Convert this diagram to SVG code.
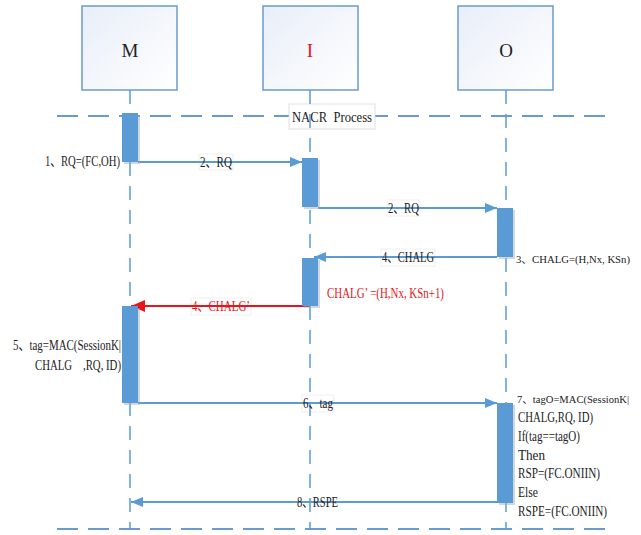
<svg xmlns="http://www.w3.org/2000/svg" width="641" height="535" viewBox="0 0 641 535">
<defs>
<linearGradient id="boxg" x1="0" y1="0" x2="1" y2="1">
<stop offset="0" stop-color="#e8eef8"/>
<stop offset="1" stop-color="#ffffff"/>
</linearGradient>
<marker id="ab" viewBox="0 0 12 10" refX="12" refY="5" markerWidth="12" markerHeight="10" markerUnits="userSpaceOnUse" orient="auto">
<path d="M0,0 L12,5 L0,10 Z" fill="#5b9bd5"/>
</marker>
<marker id="ar" viewBox="0 0 14 12" refX="14" refY="6" markerWidth="14" markerHeight="12" markerUnits="userSpaceOnUse" orient="auto">
<path d="M0,0 L14,6 L0,12 Z" fill="#e8141c"/>
</marker>
</defs>
<style>
.box{fill:url(#boxg);stroke:#6a9bd0;stroke-width:1.5}
.hd{font-family:"Liberation Serif","Noto Sans CJK SC",serif;font-size:19px;text-anchor:middle}
.t{font-family:"Liberation Serif","Noto Sans CJK SC",serif;font-size:14px;fill:#222;white-space:pre}
.s{font-size:11px}
.red{fill:#e8141c}
.frame{stroke:#6a9bd0;stroke-width:2;stroke-dasharray:21 10;fill:none}
.life{stroke:#5b9bd5;stroke-width:1.5;stroke-dasharray:14 10;fill:none}
.bar{fill:#5b9bd5}
.sh{fill:#9aa7b5;opacity:0.45}
.msg{stroke:#5b9bd5;stroke-width:2;fill:none;marker-end:url(#ab)}
.msgr{stroke:#e8141c;stroke-width:2;fill:none;marker-end:url(#ar)}
.lbg{fill:#ffffff;stroke:#ececec;stroke-width:0.8}
</style>

<g id="node-M">
<rect class="box" x="82" y="6" width="95" height="84"/>
<text class="hd" x="130" y="57" fill="#222">M</text>
</g>
<g id="node-I">
<rect class="box" x="263" y="6" width="95" height="84"/>
<text class="hd" x="310" y="57" fill="#e8141c">I</text>
</g>
<g id="node-O">
<rect class="box" x="458" y="6" width="95" height="84"/>
<text class="hd" x="506" y="57" fill="#222">O</text>
</g>

<g id="frame">
<line class="frame" x1="57" y1="116" x2="607" y2="116"/>
<line class="frame" x1="57" y1="529" x2="607" y2="529"/>
<rect x="289" y="104" width="86" height="25" fill="#ffffff" stroke="#d8d8d8" stroke-width="0.8"/>
<text class="t" x="292" y="122" textLength="80" lengthAdjust="spacingAndGlyphs">NACR  Process</text>
</g>

<g id="labels-bg">
<rect class="lbg" x="199" y="154" width="34" height="16"/>
<rect class="lbg" x="387" y="200" width="33" height="16"/>
<rect class="lbg" x="381" y="249" width="54" height="17"/>
<rect class="lbg" x="191" y="298" width="60" height="17"/>
<rect class="lbg" x="302" y="395" width="32" height="17"/>
</g>

<g id="connectors">
<line class="msg" x1="138" y1="162" x2="302" y2="162"/>
<line class="msg" x1="318" y1="208" x2="497" y2="208"/>
<line class="msg" x1="497" y1="257" x2="314" y2="257"/>
<line class="msgr" x1="310" y1="306" x2="131" y2="306"/>
<line class="msg" x1="138" y1="403" x2="497" y2="403"/>
<line class="msg" x1="497" y1="502" x2="131" y2="502"/>
</g>

<g id="lifelines">
<line class="life" x1="130" y1="90" x2="130" y2="529"/>
<line class="life" x1="310" y1="90" x2="310" y2="529"/>
<line class="life" x1="506" y1="90" x2="506" y2="529"/>
</g>

<g id="activations">
<rect class="sh" x="124" y="115" width="16" height="49"/>
<rect class="bar" x="122" y="113" width="16" height="49"/>
<rect class="sh" x="304" y="160" width="16" height="49"/>
<rect class="bar" x="302" y="158" width="16" height="49"/>
<rect class="sh" x="499" y="210" width="16" height="49"/>
<rect class="bar" x="497" y="208" width="16" height="49"/>
<rect class="sh" x="304" y="260" width="16" height="48"/>
<rect class="bar" x="302" y="258" width="16" height="48"/>
<rect class="sh" x="124" y="308" width="16" height="97"/>
<rect class="bar" x="122" y="306" width="16" height="97"/>
<rect class="sh" x="499" y="405" width="16" height="100"/>
<rect class="bar" x="497" y="403" width="16" height="100"/>
</g>

<g id="texts">
<text class="t" x="45" y="166" textLength="75" lengthAdjust="spacingAndGlyphs">1、RQ=(FC,OH)</text>
<text class="t" x="200" y="167" textLength="32" lengthAdjust="spacingAndGlyphs">2、RQ</text>
<text class="t" x="388" y="213" textLength="31" lengthAdjust="spacingAndGlyphs">2、RQ</text>
<text class="t" x="382" y="262" textLength="52" lengthAdjust="spacingAndGlyphs">4、CHALG</text>
<text class="t s" x="516" y="263" textLength="114" lengthAdjust="spacingAndGlyphs">3、CHALG=(H,Nx, KSn)</text>
<text class="t red" x="327" y="298" textLength="117" lengthAdjust="spacingAndGlyphs">CHALG’ =(H,Nx, KSn+1)</text>
<text class="t red" x="192" y="311" textLength="58" lengthAdjust="spacingAndGlyphs">4、CHALG’</text>
<text class="t" x="13" y="350" textLength="108" lengthAdjust="spacingAndGlyphs">5、tag=MAC(SessionK|</text>
<text class="t" x="35" y="370" textLength="86" lengthAdjust="spacingAndGlyphs">CHALG    ,RQ, ID)</text>
<text class="t" x="303" y="408" textLength="30" lengthAdjust="spacingAndGlyphs">6、tag</text>
<text class="t s" x="517" y="403" textLength="112" lengthAdjust="spacingAndGlyphs">7、tagO=MAC(SessionK|</text>
<text class="t" x="518" y="422" textLength="75" lengthAdjust="spacingAndGlyphs">CHALG,RQ, ID)</text>
<text class="t" x="518" y="441" textLength="62" lengthAdjust="spacingAndGlyphs">If(tag==tagO)</text>
<text class="t" x="518" y="460" textLength="27" lengthAdjust="spacingAndGlyphs">Then</text>
<text class="t" x="518" y="478" textLength="82" lengthAdjust="spacingAndGlyphs">RSP=(FC.ONIIN)</text>
<text class="t" x="518" y="497" textLength="20" lengthAdjust="spacingAndGlyphs">Else</text>
<text class="t" x="518" y="516" textLength="89" lengthAdjust="spacingAndGlyphs">RSPE=(FC.ONIIN)</text>
<text class="t" x="297" y="507" textLength="41" lengthAdjust="spacingAndGlyphs">8、RSPE</text>
</g>
</svg>
